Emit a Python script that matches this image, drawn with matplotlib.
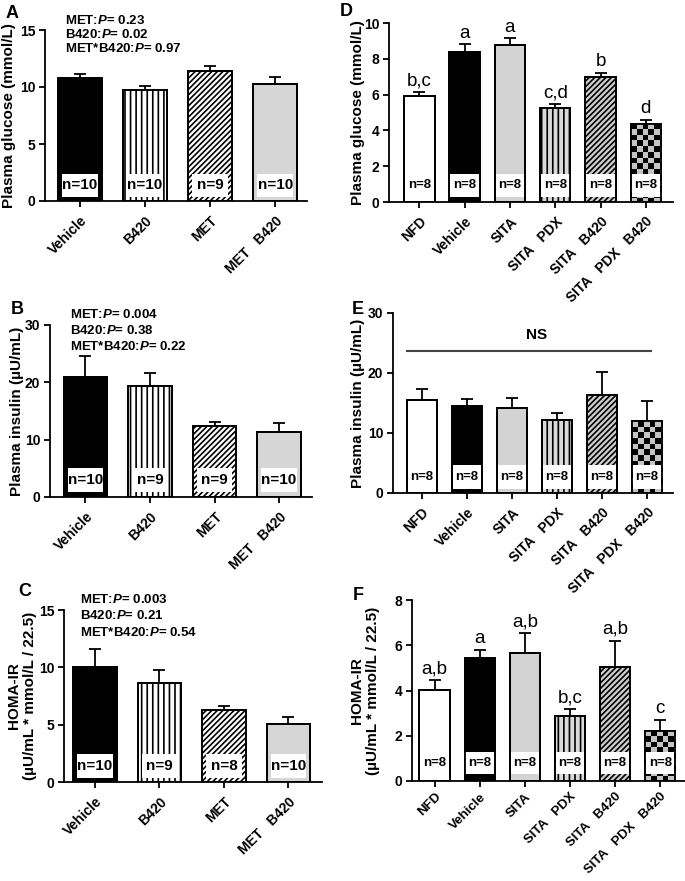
import numpy as np
import matplotlib
matplotlib.use("Agg")
import matplotlib.pyplot as plt
from matplotlib.colors import ListedColormap

plt.rcParams['font.family'] = ['Liberation Sans', 'DejaVu Sans']
plt.rcParams['font.weight'] = 'bold'
plt.rcParams['mathtext.fontset'] = 'custom'
plt.rcParams['mathtext.it'] = 'Liberation Sans:bold:italic'
plt.rcParams['mathtext.rm'] = 'Liberation Sans:bold'
plt.rcParams['hatch.linewidth'] = 1.2

# ---------------- data ----------------
met_groups = ['Vehicle', 'B420', 'MET', 'MET   B420']
glu_met = [10.76, 9.74, 11.4, 10.26]
glu_met_sem = [0.38, 0.35, 0.44, 0.64]
glu_met_n = ['n=10', 'n=10', 'n=9', 'n=10']
glu_met_p = ['MET:$P$= 0.23', 'B420:$P$= 0.02', 'MET*B420:$P$= 0.97']

ins_met = [21.0, 19.3, 12.4, 11.3]
ins_met_sem = [3.6, 2.4, 0.6, 1.6]
ins_met_n = ['n=10', 'n=9', 'n=9', 'n=10']
ins_met_p = ['MET:$P$= 0.004', 'B420:$P$= 0.38', 'MET*B420:$P$= 0.22']

homa_met = [10.0, 8.6, 6.28, 5.06]
homa_met_sem = [1.6, 1.17, 0.35, 0.64]
homa_met_n = ['n=10', 'n=9', 'n=8', 'n=10']
homa_met_p = ['MET:$P$= 0.003', 'B420:$P$= 0.21', 'MET*B420:$P$= 0.54']

sita_groups = ['NFD', 'Vehicle', 'SITA', 'SITA   PDX', 'SITA   B420', 'SITA   PDX   B420']
glu_sita = [5.94, 8.4, 8.77, 5.23, 6.97, 4.36]
glu_sita_sem = [0.19, 0.4, 0.37, 0.23, 0.25, 0.22]
glu_sita_let = ['b,c', 'a', 'a', 'c,d', 'b', 'd']

ins_sita = [15.5, 14.55, 14.2, 12.2, 16.3, 12.0]
ins_sita_sem = [1.8, 1.05, 1.7, 1.1, 3.9, 3.3]

homa_sita = [4.04, 5.42, 5.64, 2.86, 5.05, 2.21]
homa_sita_sem = [0.42, 0.39, 0.88, 0.33, 1.15, 0.48]
homa_sita_let = ['a,b', 'a', 'a,b', 'b,c', 'a,b', 'c']
sita_n = ['n=8'] * 6

# bar styles (face, hatch)
met_style = [('black', ''), ('white', '|||'), ('white', '//////'), ('#d6d6d6', '')]
sita_style = [('white', ''), ('black', ''), ('#d3d3d3', ''), ('#dadada', '|||'),
              ('#cfcfcf', '//////'), ('checker', '')]

W, H = 685, 881
fig = plt.figure(figsize=(W / 100, H / 100), dpi=100)


def make_ax(l, r, t, b):
    return fig.add_axes([l / W, 1 - b / H, (r - l) / W, (b - t) / H])


def checker(ax, bar, sq=5.7):
    x0, y0 = bar.get_x(), bar.get_y()
    w, h = bar.get_width(), bar.get_height()
    p0 = ax.transData.transform((x0, y0))
    p1 = ax.transData.transform((x0 + w, y0 + h))
    ncol = int(np.ceil((p1[0] - p0[0]) / sq))
    nrow = int(np.ceil((p1[1] - p0[1]) / sq))
    img = np.add.outer(np.arange(nrow), np.arange(ncol)) % 2
    dx = sq * w / (p1[0] - p0[0])
    dy = sq * h / (p1[1] - p0[1])
    top = y0 + h
    im = ax.imshow(img[::-1], cmap=ListedColormap(['#c4c4c4', 'black']),
                   extent=[x0, x0 + ncol * dx, top - nrow * dy, top],
                   origin='upper', aspect='auto', interpolation='nearest', zorder=2.5)
    im.set_clip_path(bar)


def panel(box, vals, sem, names, styles, ymax, yticks, xlim, ylabel, lab_x,
          nlabels, nbold, inset, letter, letter_xy, xfs=10):
    l, r, t, b = box
    ax = make_ax(l, r, t, b)
    x = np.arange(len(vals))
    ax.set_xlim(*xlim)
    ax.set_ylim(0, ymax)
    ax.errorbar(x, vals, yerr=[np.zeros(len(vals)), sem], fmt='none', ecolor='black',
                elinewidth=1.3, capsize=4.5, capthick=1.3, zorder=1)
    bw = 0.67
    bars = ax.bar(x, vals, width=bw, color=[s[0] if s[0] != 'checker' else '#c4c4c4' for s in styles],
                  edgecolor='black', linewidth=1.3, zorder=2)
    for bar, s in zip(bars, styles):
        bar.set_hatch(s[1])
        if s[0] == 'checker':
            checker(ax, bar)
    ax.bar(x, vals, width=bw, fill=False, edgecolor='black', linewidth=1.3, zorder=3)
    # n= boxes
    for xi, lab in zip(x, nlabels):
        y0, y1 = ymax * inset[1], ymax * inset[2]
        ax.add_patch(plt.Rectangle((xi - bw / 2 + inset[0], y0), bw - 2 * inset[0], y1 - y0,
                                   facecolor='white', edgecolor='none', zorder=2.8))
        ax.text(xi, (y0 + y1) / 2, lab, ha='center', va='center', zorder=4,
                fontsize=11 if nbold else 9.5, fontweight='bold')
    ax.spines[['top', 'right']].set_visible(False)
    ax.spines[['left', 'bottom']].set_linewidth(1.3)
    ax.set_yticks(yticks)
    ax.set_xticks(x)
    ax.set_xticklabels(names, rotation=45, ha='right', rotation_mode='anchor')
    ax.tick_params(width=1.3, length=4, labelsize=10, pad=3)
    ax.tick_params(axis='x', pad=5 if xfs == 10 else 3, labelsize=xfs)
    ax.set_ylabel(ylabel, fontsize=11, fontweight='bold')
    ax.yaxis.set_label_coords((lab_x - l) / (r - l), 0.5)
    fig.text(letter_xy[0] / W, 1 - letter_xy[1] / H, letter, fontsize=13,
             fontweight='bold', ha='center', va='center')
    return ax


def ptext(ax, lines, xpx, ypx, box, step=15):
    l, r, t, b = box
    for i, s in enumerate(lines):
        ax.text((xpx - l) / (r - l), (b - (ypx + i * step)) / (b - t), s, transform=ax.transAxes,
                fontsize=9.5, ha='left', va='center')


def letters(ax, vals, sem, lets):
    for xi, v, e, s in zip(range(len(vals)), vals, sem, lets):
        ax.annotate(s, (xi, v + e), xytext=(0, 2), textcoords='offset points',
                    ha='center', va='bottom', fontsize=13.5, fontweight='normal')


boxA = (45, 307, 30, 201)
axA = panel(boxA, glu_met, glu_met_sem, met_groups, met_style, 15, [0, 5, 10, 15], (-0.54, 3.49),
            'Plasma glucose (mmol/L)', 16, glu_met_n, True, (0.06, 0.025, 0.16), 'A', (12, 13))
ptext(axA, glu_met_p, 65, 20, boxA, 14.5)

boxB = (50, 312, 325, 497)
axB = panel(boxB, ins_met, ins_met_sem, met_groups, met_style, 30, [0, 10, 20, 30], (-0.55, 3.51),
            'Plasma insulin (\u00b5U/mL)', 24, ins_met_n, True, (0.06, 0.03, 0.17), 'B', (17, 310))
ptext(axB, ins_met_p, 70, 315, boxB, 15.5)

boxC = (64, 322, 610, 782)
axC = panel(boxC, homa_met, homa_met_sem, met_groups, met_style, 15, [0, 5, 10, 15], (-0.48, 3.52),
            'HOMA-IR\n(\u00b5U/mL * mmol/L / 22.5)', 37, homa_met_n, True, (0.06, 0.025, 0.165), 'C', (25, 591))
ptext(axC, homa_met_p, 80, 599, boxC, 16.5)

boxD = (389, 673, 23, 202)
axD = panel(boxD, glu_sita, glu_sita_sem, sita_groups, sita_style, 10, [0, 2, 4, 6, 8, 10], (-0.67, 5.6),
            'Plasma glucose (mmol/L)', 365, sita_n, False, (0.02, 0.03, 0.155), 'D', (346, 12))
letters(axD, glu_sita, glu_sita_sem, glu_sita_let)

boxE = (393, 673, 313, 493)
axE = panel(boxE, ins_sita, ins_sita_sem, sita_groups, sita_style, 30, [0, 10, 20, 30], (-0.64, 5.58),
            'Plasma insulin (\u00b5U/mL)', 365, sita_n, False, (0.02, 0.023, 0.157), 'E', (358, 309))
axE.plot([-0.33, 5.1], [23.6, 23.6], color='#444444', lw=1.5)
axE.text(2.55, 26.3, 'NS', ha='center', va='center', fontsize=11)

boxF = (412, 685, 600, 781)
axF = panel(boxF, homa_sita, homa_sita_sem, sita_groups, sita_style, 8, [0, 2, 4, 6, 8], (-0.5, 5.55),
            'HOMA-IR\n(\u00b5U/mL * mmol/L / 22.5)', 380, sita_n, False, (0.02, 0.037, 0.16), 'F', (358, 596),
            xfs=9.5)
letters(axF, homa_sita, homa_sita_sem, homa_sita_let)

fig.savefig('out.png', dpi=100, facecolor='white')
